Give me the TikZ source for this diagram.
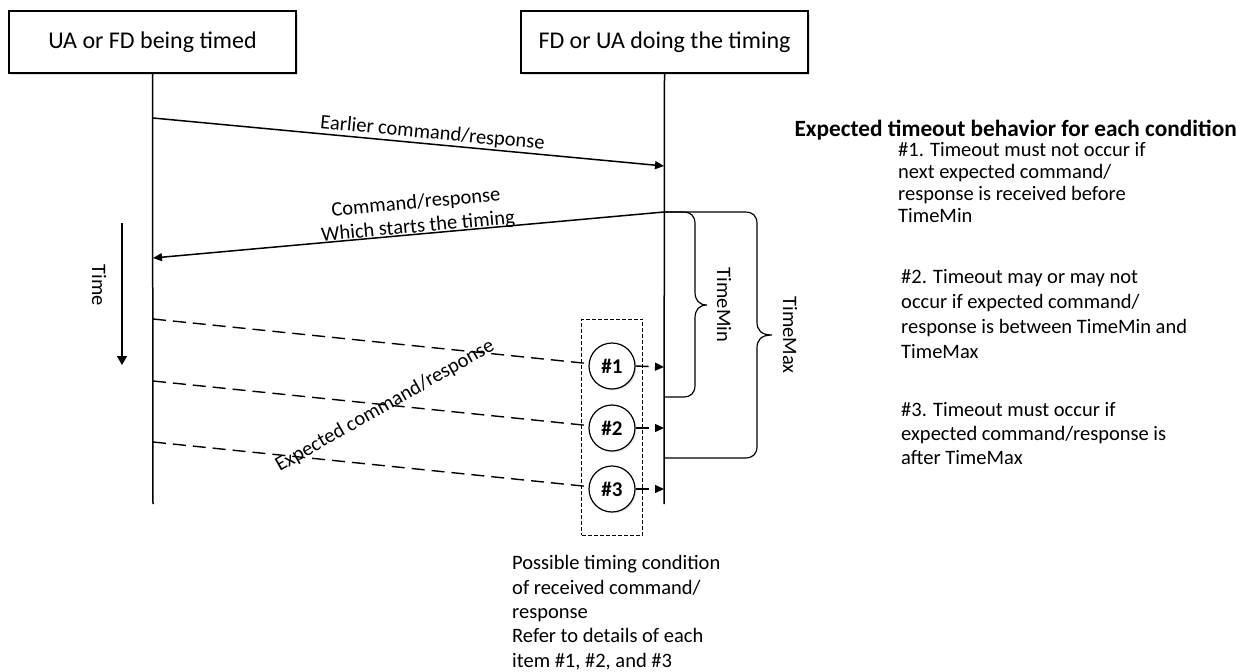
\documentclass[tikz,border=0pt]{standalone}
\usepackage{fontspec}
\setmainfont{Carlito}
\usetikzlibrary{arrows.meta,shadows}
\begin{document}
\begin{tikzpicture}[x=1pt,y=-1pt,
  actor/.style={draw,line width=1.6pt,fill=white,minimum width=287pt,minimum height=62pt,inner sep=0pt,
    font=\fontsize{24}{28}\selectfont,drop shadow={shadow xshift=2pt,shadow yshift=-2pt,fill=black!25}},
  life/.style={line width=1.5pt},
  msg/.style={line width=1.5pt,-{Triangle[length=9pt,width=8pt]}},
  expd/.style={line width=1.4pt,dash pattern=on 13pt off 7pt},
  lbl/.style={font=\fontsize{20.5}{24}\selectfont,inner sep=0pt},
  cond/.style={draw,circle,line width=1.2pt,minimum size=46pt,inner sep=0pt,fill=white,
    font=\bfseries\fontsize{21}{24}\selectfont,drop shadow={shadow xshift=1.5pt,shadow yshift=-1.5pt,fill=black!20}},
  brace/.style={line width=1.2pt},
  note/.style={font=\fontsize{20.5}{24.3}\selectfont,align=left,inner sep=0pt,anchor=base west}
]
\useasboundingbox (0,0) rectangle (1245,672);

% actors
\node[actor] (ua) at (152.5,42) {UA or FD being timed};
\node[actor] (fd) at (664.5,42) {FD or UA doing the timing};
\coordinate (uabot) at (153,504);
\coordinate (fdbot) at (664,504);
\draw[life] (ua.south) -- (uabot);
\draw[life] (fd.south) -- (fdbot);

% earlier command/response
\coordinate (a1s) at (153,118);
\coordinate (a1e) at (664,166);
\draw[msg] (a1s) -- (a1e);
\node[lbl,anchor=base,rotate=-5.37] (l1) at (432,139) {Earlier command/response};

% command which starts timing
\coordinate (a2s) at (664,212);
\coordinate (a2e) at (153,258);
\draw[msg] (a2s) -- (a2e);
\node[lbl,align=center,rotate=5.2] (l2) at (417,215) {Command/response\\Which starts the timing};

% time arrow
\coordinate (t1) at (122,223);
\coordinate (t2) at (122,365);
\draw[line width=1.4pt,-{Triangle[length=9pt,width=10pt]}] (t1) -- (t2);
\node[lbl,rotate=-90] (tl) at (99,285) {Time};

% dashed box of conditions
\node[draw,dash pattern=on 4pt off 2pt,line width=0.9pt,minimum width=61pt,minimum height=216pt,inner sep=0pt] (cbox) at (612,427) {};

% conditions
\node[cond] (c1) at (612,366) {\#1};
\node[cond] (c2) at (612,428) {\#2};
\node[cond] (c3) at (612,489) {\#3};

\coordinate (s1) at (153,319);
\coordinate (s2) at (153,381);
\coordinate (s3) at (153,442);
\draw[expd] (s1) -- (c1);
\draw[expd] (s2) -- (c2);
\draw[expd] (s3) -- (c3);

\coordinate (r1) at (664,367);
\coordinate (r2) at (664,428);
\coordinate (r3) at (664,489);
\draw[expd,-{Triangle[length=9pt,width=8pt]}] (c1.east) -- (r1);
\draw[expd,-{Triangle[length=9pt,width=8pt]}] (c2.east) -- (r2);
\draw[expd,-{Triangle[length=9pt,width=8pt]}] (c3.east) -- (r3);

\node[lbl,rotate=29.6] (l3) at (385,406) {Expected command/response};

% braces
\coordinate (bmin) at (664,397);
\coordinate (bmax) at (664,458);
\draw[brace] (a2s) -- (683,212) .. controls (691,212) and (695,216) .. (695,224) -- (695,292)
  .. controls (695,300) and (699,305) .. (707,305) .. controls (699,305) and (695,310) .. (695,318)
  -- (695,385) .. controls (695,393) and (691,397) .. (683,397) -- (bmin);
\draw[brace] (a2s) -- (745,212) .. controls (753,212) and (757,216) .. (757,224) -- (757,322)
  .. controls (757,330) and (761,335) .. (772,335) .. controls (761,335) and (757,340) .. (757,348)
  -- (757,446) .. controls (757,454) and (753,458) .. (745,458) -- (bmax);
\node[lbl,rotate=-90] (tmin) at (724,305) {TimeMin};
\node[lbl,rotate=-90] (tmax) at (790,335) {TimeMax};

% notes
\node[lbl,font=\bfseries\fontsize{23.3}{26}\selectfont,anchor=base east] (title) at (1237,136) {Expected timeout behavior for each condition};
\node[note,font=\fontsize{20.5}{21.7}\selectfont] (n1) at (898,222) {\#1. Timeout must not occur if\\next expected command/\\response is received before\\TimeMin};
\node[note,font=\fontsize{20.5}{25}\selectfont] (n2) at (901,358) {\#2. Timeout may or may not\\occur if expected command/\\response is between TimeMin and\\TimeMax};
\node[note,font=\fontsize{20.5}{24}\selectfont] (n3) at (901,464) {\#3. Timeout must occur if\\expected command/response is\\after TimeMax};
\node[note] (n4) at (512,667) {Possible timing condition\\of received command/\\response\\Refer to details of each\\item \#1, \#2, and \#3};
\end{tikzpicture}
\end{document}
